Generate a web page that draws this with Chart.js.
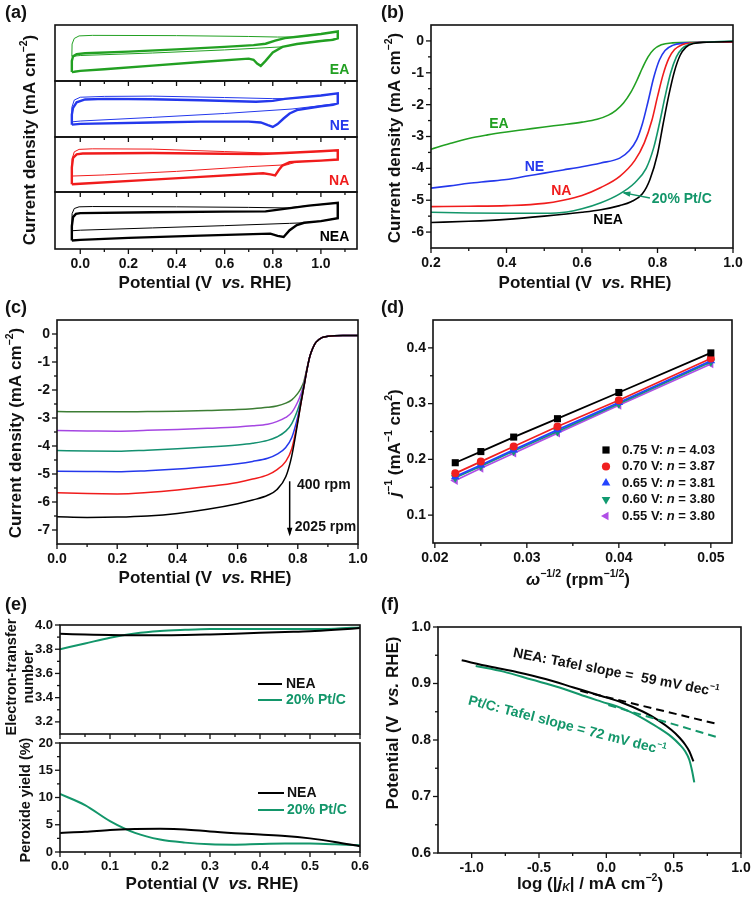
<!DOCTYPE html>
<html>
<head>
<meta charset="utf-8">
<script src="https://cdn.jsdelivr.net/npm/chart.js@4.4.1/dist/chart.umd.min.js"></script>
<style>
  body { margin: 0; background: #fff; }
  #fig { position: relative; width: 756px; height: 899px; background: #fff; overflow: hidden; }
  canvas { position: absolute; }
</style>
</head>
<body>
<div id="fig"></div>
<script>
// ---- colours ----
const INK = '#111';
const GREEN = '#22a022', BLUE = '#2438ec', RED = '#f01c1c', TEAL = '#13966a', PURPLE = '#a546e2', OLIVE = '#3c7d34';
const FONT = '"Liberation Sans", Arial, Helvetica, sans-serif';

// ---- (a) cyclic voltammograms, [potential V, current in arbitrary units 0-10 per strip] ----
const eaO2 = [[-0.035,1.6],[-0.035,3.6],[-0.03,4.4],[-0.015,4.8],[0.02,4.95],[0.2,5.25],[0.4,5.65],[0.6,6.1],[0.72,6.4],[0.77,6.65],[0.81,7.2],[0.85,7.65],[0.92,8.0],[1.0,8.4],[1.07,8.85],[1.07,7.6],[1.05,7.35],[1.0,7.15],[0.9,6.6],[0.84,6.1],[0.8,5.1],[0.77,3.6],[0.75,2.7],[0.735,3.1],[0.72,3.8],[0.7,4.0],[0.5,3.4],[0.3,2.75],[0.1,2.1],[0.0,1.8],[-0.025,1.65],[-0.035,1.6]];
const eaN2 = [[-0.035,4.4],[-0.034,6.6],[-0.025,7.6],[-0.005,8.05],[0.05,8.15],[0.4,8.1],[0.7,7.95],[0.82,7.85],[0.88,7.85],[0.95,8.1],[1.0,8.4],[1.07,8.85],[1.07,7.6],[1.0,7.2],[0.9,6.6],[0.84,6.1],[0.6,5.55],[0.3,5.0],[0.0,4.55],[-0.035,4.4]];
const neO2 = [[-0.035,2.2],[-0.035,4.0],[-0.03,5.2],[-0.015,6.2],[0.02,6.7],[0.1,6.8],[0.3,6.75],[0.5,6.55],[0.73,6.3],[0.8,6.45],[0.85,6.8],[1.0,7.4],[1.07,7.8],[1.07,6.0],[1.05,5.75],[1.0,5.5],[0.9,4.8],[0.87,4.2],[0.845,3.3],[0.82,2.3],[0.8,1.8],[0.78,2.1],[0.75,2.6],[0.7,2.75],[0.5,2.75],[0.3,2.6],[0.0,2.35],[-0.035,2.2]];
const neN2 = [[-0.035,2.7],[-0.035,5.3],[-0.025,6.6],[0.0,7.1],[0.1,7.25],[0.3,7.3],[0.6,7.05],[0.8,6.85],[0.86,6.85],[1.0,7.4],[1.07,7.8],[1.07,6.0],[1.0,5.6],[0.88,5.0],[0.6,4.2],[0.3,3.5],[0.0,2.85],[-0.035,2.7]];
const naO2 = [[-0.035,1.4],[-0.035,4.5],[-0.03,6.2],[-0.015,6.85],[0.01,7.0],[0.3,7.1],[0.6,6.95],[0.75,6.9],[0.85,7.1],[1.0,7.4],[1.07,7.6],[1.07,5.9],[1.0,5.7],[0.9,5.5],[0.87,5.4],[0.84,4.8],[0.825,4.0],[0.81,3.0],[0.79,3.2],[0.76,3.4],[0.5,2.75],[0.3,2.25],[0.0,1.5],[-0.035,1.4]];
const naN2 = [[-0.035,2.9],[-0.034,6.0],[-0.025,7.3],[-0.005,7.75],[0.05,7.85],[0.3,7.8],[0.6,7.35],[0.8,7.05],[0.86,7.1],[1.0,7.4],[1.07,7.6],[1.07,5.9],[1.0,5.7],[0.9,5.5],[0.86,4.95],[0.7,4.6],[0.4,3.75],[0.1,3.1],[-0.035,2.9]];
const neaO2 = [[-0.035,1.5],[-0.035,4.0],[-0.03,5.6],[-0.018,6.15],[0.0,6.3],[0.3,6.45],[0.6,6.55],[0.77,6.6],[0.84,7.0],[0.95,7.6],[1.07,8.1],[1.07,5.4],[1.0,4.9],[0.93,4.6],[0.9,4.2],[0.87,3.3],[0.845,2.1],[0.82,2.3],[0.79,2.7],[0.5,2.35],[0.2,1.95],[0.0,1.6],[-0.035,1.5]];
const neaN2 = [[-0.035,3.2],[-0.034,6.2],[-0.025,7.1],[-0.005,7.4],[0.05,7.45],[0.4,7.4],[0.7,7.3],[0.86,7.2],[0.95,7.6],[1.07,8.1],[1.07,5.4],[1.0,4.9],[0.93,4.6],[0.87,4.5],[0.6,4.1],[0.3,3.7],[0.0,3.3],[-0.035,3.2]];

// ---- (b) LSV curves ----
const lsvEA = [[0.2,-3.4],[0.25,-3.22],[0.3,-3.06],[0.35,-2.95],[0.4,-2.86],[0.45,-2.78],[0.5,-2.7],[0.55,-2.63],[0.6,-2.55],[0.64,-2.46],[0.67,-2.33],[0.69,-2.18],[0.71,-1.95],[0.73,-1.6],[0.745,-1.25],[0.76,-0.85],[0.775,-0.5],[0.79,-0.27],[0.81,-0.12],[0.84,-0.06],[0.9,-0.04],[1.0,-0.03]];
const lsvNE = [[0.2,-4.62],[0.25,-4.55],[0.3,-4.47],[0.35,-4.41],[0.4,-4.35],[0.45,-4.25],[0.5,-4.15],[0.55,-4.05],[0.6,-3.95],[0.65,-3.83],[0.7,-3.68],[0.725,-3.45],[0.745,-3.1],[0.76,-2.6],[0.775,-1.9],[0.79,-1.15],[0.805,-0.6],[0.82,-0.3],[0.84,-0.14],[0.87,-0.07],[0.92,-0.04],[1.0,-0.03]];
const lsvNA = [[0.2,-5.2],[0.3,-5.19],[0.4,-5.17],[0.5,-5.1],[0.55,-5.0],[0.6,-4.85],[0.65,-4.6],[0.7,-4.25],[0.74,-3.75],[0.765,-3.2],[0.785,-2.5],[0.8,-1.75],[0.815,-1.05],[0.83,-0.55],[0.845,-0.27],[0.865,-0.12],[0.89,-0.06],[0.93,-0.04],[1.0,-0.03]];
const lsvPt = [[0.2,-5.38],[0.3,-5.4],[0.4,-5.41],[0.5,-5.41],[0.56,-5.37],[0.6,-5.27],[0.65,-5.08],[0.7,-4.8],[0.74,-4.45],[0.77,-4.0],[0.79,-3.35],[0.805,-2.6],[0.82,-1.75],[0.835,-1.0],[0.85,-0.5],[0.865,-0.24],[0.885,-0.1],[0.91,-0.05],[0.95,-0.03],[1.0,0.0]];
const lsvNEA = [[0.2,-5.7],[0.3,-5.66],[0.4,-5.6],[0.5,-5.5],[0.6,-5.38],[0.65,-5.3],[0.7,-5.17],[0.73,-5.05],[0.76,-4.8],[0.78,-4.35],[0.8,-3.55],[0.815,-2.6],[0.83,-1.7],[0.845,-0.95],[0.86,-0.45],[0.875,-0.2],[0.895,-0.08],[0.93,-0.04],[1.0,-0.02]];

// ---- (c) rotating-disk LSV at different rates ----
const rdeV = [0,0.1,0.2,0.3,0.4,0.5,0.6,0.65,0.7,0.73,0.76,0.78,0.8,0.81,0.82,0.83,0.84,0.85,0.86,0.88,0.9,0.95,1.0];
const rde2025 = [-6.53,-6.55,-6.54,-6.5,-6.41,-6.26,-6.06,-5.93,-5.76,-5.56,-5.1,-4.35,-3.15,-2.5,-1.9,-1.3,-0.8,-0.5,-0.3,-0.13,-0.08,-0.05,-0.05];
const rde1600 = [-5.67,-5.7,-5.71,-5.66,-5.57,-5.45,-5.3,-5.18,-5.03,-4.85,-4.55,-4.1,-3.1,-2.5,-1.9,-1.3,-0.8,-0.5,-0.3,-0.13,-0.08,-0.05,-0.05];
const rde1225 = [-4.9,-4.91,-4.92,-4.88,-4.82,-4.74,-4.63,-4.55,-4.44,-4.3,-4.05,-3.7,-2.95,-2.45,-1.9,-1.3,-0.8,-0.5,-0.3,-0.13,-0.08,-0.05,-0.05];
const rde900 = [-4.16,-4.18,-4.19,-4.15,-4.1,-4.04,-3.96,-3.9,-3.8,-3.68,-3.47,-3.2,-2.7,-2.35,-1.85,-1.3,-0.8,-0.5,-0.3,-0.13,-0.08,-0.05,-0.05];
const rde625 = [-3.45,-3.46,-3.47,-3.44,-3.41,-3.37,-3.32,-3.28,-3.22,-3.13,-2.98,-2.8,-2.42,-2.15,-1.8,-1.28,-0.8,-0.5,-0.3,-0.13,-0.08,-0.05,-0.05];
const rde400 = [-2.77,-2.78,-2.78,-2.77,-2.76,-2.73,-2.7,-2.67,-2.62,-2.57,-2.47,-2.35,-2.12,-1.95,-1.7,-1.25,-0.8,-0.5,-0.3,-0.13,-0.08,-0.05,-0.05];

// ---- (d) Koutecky-Levich ----
const klX = [0.02222, 0.025, 0.02857, 0.03333, 0.04, 0.05];
const kl075 = [0.194, 0.214, 0.240, 0.273, 0.320, 0.391];
const kl070 = [0.175, 0.196, 0.223, 0.259, 0.306, 0.381];
const kl065 = [0.169, 0.190, 0.217, 0.253, 0.302, 0.377];
const kl060 = [0.167, 0.188, 0.215, 0.250, 0.300, 0.375];
const kl055 = [0.162, 0.184, 0.211, 0.247, 0.297, 0.371];
const klNames = ['0.75 V: ', '0.70 V: ', '0.65 V: ', '0.60 V: ', '0.55 V: '];
const klN = ['4.03', '3.87', '3.81', '3.80', '3.80'];

// ---- (e) RRDE ----
const rrdeV = [0,0.05,0.1,0.15,0.2,0.25,0.3,0.35,0.4,0.45,0.5,0.55,0.6];
const nNEA = [3.927,3.922,3.917,3.915,3.915,3.917,3.922,3.928,3.936,3.942,3.948,3.960,3.975];
const nPt = [3.80,3.847,3.895,3.93,3.95,3.96,3.967,3.968,3.967,3.966,3.966,3.97,3.98];
const hNEA = [3.5,3.7,4.05,4.2,4.25,4.15,3.75,3.45,3.2,2.95,2.5,1.85,1.05];
const hPt = [10.65,8.6,5.66,3.5,2.28,1.72,1.42,1.35,1.48,1.55,1.54,1.42,1.23];

// ---- (f) Tafel ----
const tafNEA = [[-1.074,0.941],[-0.867,0.930],[-0.659,0.920],[-0.452,0.908],[-0.244,0.893],[-0.037,0.878],[0.119,0.866],[0.274,0.850],[0.378,0.836],[0.482,0.818],[0.544,0.804],[0.585,0.792],[0.616,0.780],[0.637,0.768],[0.647,0.762]];
const tafPt = [[-0.97,0.931],[-0.763,0.921],[-0.556,0.907],[-0.348,0.893],[-0.141,0.876],[-0.037,0.868],[0.119,0.856],[0.274,0.838],[0.378,0.823],[0.482,0.806],[0.544,0.792],[0.585,0.78],[0.616,0.765],[0.637,0.745],[0.653,0.725]];
const fitNEA = [[-0.193,0.887],[0.813,0.829]];
const fitPt = [[0.015,0.862],[0.824,0.805]];

// ---- helpers ----
const fig = document.getElementById('fig');
const zip = (xs, ys) => xs.map((x, i) => [x, ys[i]]);
const f1 = v => v.toFixed(1), f2 = v => v.toFixed(2), f0 = v => String(v);

function rich(ctx, segs, x, y, o) {
  const size = o.size || 17;
  ctx.save();
  ctx.translate(x, y);
  if (o.rot) ctx.rotate(o.rot * Math.PI / 180);
  ctx.fillStyle = o.color || INK;
  ctx.textBaseline = 'middle';
  ctx.textAlign = 'left';
  const parts = segs.map(s => {
    const t = Array.isArray(s) ? s[0] : s, st = Array.isArray(s) ? s[1] : '';
    const small = /[\^_]/.test(st);
    const font = (st.includes('i') ? 'italic ' : '') + 'bold ' + (small ? size * 0.62 : size) + 'px ' + FONT;
    ctx.font = font;
    return { t, font, w: ctx.measureText(t).width, dy: st.includes('^') ? -size * 0.36 : st.includes('_') ? size * 0.24 : 0 };
  });
  const total = parts.reduce((s, p) => s + p.w, 0);
  let cx = o.align === 'left' ? 0 : o.align === 'right' ? -total : -total / 2;
  parts.forEach(p => { ctx.font = p.font; ctx.fillText(p.t, cx, p.dy); cx += p.w; });
  ctx.restore();
}

function marker(ctx, style, x, y, r, color) {
  ctx.save();
  ctx.fillStyle = color;
  ctx.beginPath();
  if (style === 'rect') ctx.rect(x - r * 0.72, y - r * 0.72, r * 1.44, r * 1.44);
  else if (style === 'circle') ctx.arc(x, y, r * 0.82, 0, Math.PI * 2);
  else {
    const a0 = { up: -90, down: 90, left: 180 }[style] * Math.PI / 180;
    for (let k = 0; k < 3; k++) {
      const t = a0 + k * Math.PI * 2 / 3;
      ctx.lineTo(x + r * Math.cos(t), y + r * Math.sin(t));
    }
    ctx.closePath();
  }
  ctx.fill();
  ctx.restore();
}

// frame, minor ticks, titles, annotations
const deco = {
  id: 'deco',
  afterDraw(chart) {
    const o = chart.canvas.deco;
    const ctx = chart.ctx, a = chart.chartArea, sx = chart.scales.x, sy = chart.scales.y;
    const pos = (x, y, d) => d ? [sx.getPixelForValue(x), sy.getPixelForValue(y)] : [x - o.rect[0], y - o.rect[1]];
    const seg = (x1, y1, x2, y2) => { ctx.beginPath(); ctx.moveTo(x1, y1); ctx.lineTo(x2, y2); ctx.stroke(); };
    ctx.save();
    ctx.strokeStyle = INK;
    ctx.lineWidth = 1.3;
    if (o.xMinor) {
      sx.ticks.forEach(t => { const x = sx.getPixelForValue(t.value); seg(x, a.bottom, x, a.bottom + 5); });
      o.xMinor.forEach(v => { const x = sx.getPixelForValue(v); seg(x, a.bottom, x, a.bottom + 3); });
    }
    if (o.yMinor) {
      sy.ticks.forEach(t => { const y = sy.getPixelForValue(t.value); seg(a.left - 5, y, a.left, y); });
      o.yMinor.forEach(v => { const y = sy.getPixelForValue(v); seg(a.left - 3, y, a.left, y); });
    }
    ctx.lineWidth = 1.6;
    ctx.strokeRect(a.left, a.top, a.right - a.left, a.bottom - a.top);
    (o.lines || []).forEach(l => {
      const [x1, y1] = pos(l.p[0][0], l.p[0][1], l.d), [x2, y2] = pos(l.p[1][0], l.p[1][1], l.d);
      ctx.strokeStyle = l.color; ctx.fillStyle = l.color; ctx.lineWidth = l.w || 2;
      seg(x1, y1, x2, y2);
      if (l.arrow) {
        const ang = Math.atan2(y2 - y1, x2 - x1), h = 7;
        ctx.beginPath();
        ctx.moveTo(x2 + Math.cos(ang) * 2, y2 + Math.sin(ang) * 2);
        ctx.lineTo(x2 - h * Math.cos(ang - 0.4), y2 - h * Math.sin(ang - 0.4));
        ctx.lineTo(x2 - h * Math.cos(ang + 0.4), y2 - h * Math.sin(ang + 0.4));
        ctx.closePath(); ctx.fill();
      }
    });
    (o.marks || []).forEach(m => { const [x, y] = pos(m.x, m.y, m.d); marker(ctx, m.style, x, y, 5, m.color); });
    (o.texts || []).forEach(t => { const [x, y] = pos(t.x, t.y, t.d); rich(ctx, t.s, x, y, t); });
    ctx.restore();
  }
};

function axis(s, size, horiz) {
  return {
    type: 'linear', position: horiz ? 'bottom' : 'left', min: s.min, max: s.max,
    afterBuildTicks: sc => { sc.ticks = (s.ticks || []).map(v => ({ value: v })); },
    afterFit: sc => {
      if (horiz) sc.height = size; else sc.width = size;
      sc.paddingLeft = sc.paddingRight = sc.paddingTop = sc.paddingBottom = 0;
    },
    grid: { display: false, drawTicks: true, tickLength: 5 },
    border: { display: false },
    ticks: {
      display: !!s.fmt, padding: 2, autoSkip: false, maxRotation: 0, minRotation: 0, color: INK,
      font: { family: FONT, size: s.fs || 14, weight: 'bold' },
      callback: v => s.fmt ? s.fmt(v) : ''
    }
  };
}

// rect = canvas [left, top, w, h] in page px, box = plot area [l, t, r, b] in page px
function panel(rect, box, o) {
  const c = document.createElement('canvas');
  c.width = rect[2]; c.height = rect[3];
  c.style.left = rect[0] + 'px'; c.style.top = rect[1] + 'px';
  fig.appendChild(c);
  c.deco = Object.assign({ rect }, o);
  const yW = o.yW || 0, xH = o.xH || 0;
  return new Chart(c, {
    type: 'scatter',
    data: { datasets: o.datasets },
    options: {
      responsive: false, animation: false, events: [],
      layout: {
        autoPadding: false,
        padding: { left: box[0] - rect[0] - yW, top: box[1] - rect[1], right: rect[0] + rect[2] - box[2], bottom: rect[1] + rect[3] - box[3] - xH }
      },
      plugins: { legend: { display: false }, tooltip: { enabled: false } },
      scales: { x: axis(o.x, xH, true), y: axis(o.y, yW, false) }
    },
    plugins: [deco]
  });
}

function line(pts, color, w, extra) {
  return Object.assign({
    data: pts.map(p => ({ x: p[0], y: p[1] })), showLine: true, borderColor: color, backgroundColor: color,
    borderWidth: w, pointRadius: 0, fill: false
  }, extra || {});
}
const smooth = { cubicInterpolationMode: 'monotone' };
const potTitle = ['Potential (V  ', ['vs.', 'i'], ' RHE)'];
const cdTitle = ['Current density (mA cm', ['−2', '^'], ')'];

// ---- (a) ----
const aRect = [0, 0, 378, 295];
const aX = { min: -0.105, max: 1.15, ticks: [0, 0.2, 0.4, 0.6, 0.8, 1.0] };
const aMinor = [0.1, 0.3, 0.5, 0.7, 0.9, 1.1];
const aStrips = [
  { box: [55, 25, 357, 81], o2: eaO2, n2: eaN2, color: GREEN, name: 'EA' },
  { box: [55, 81, 357, 137], o2: neO2, n2: neN2, color: BLUE, name: 'NE' },
  { box: [55, 137, 357, 192], o2: naO2, n2: naN2, color: RED, name: 'NA' },
  { box: [55, 192, 357, 249], o2: neaO2, n2: neaN2, color: '#000', name: 'NEA' }
];
aStrips.forEach((s, i) => {
  const last = i === aStrips.length - 1;
  const texts = [{ s: [s.name], x: 1.118, y: 2.0, d: true, size: 14, color: s.color, align: 'right' }];
  if (last) {
    texts.push({ s: ['(a)'], x: 5, y: 13, size: 18, align: 'left' });
    texts.push({ s: potTitle, x: 205, y: 283 });
    texts.push({ s: cdTitle, x: 30, y: 140, rot: -90 });
  }
  panel(aRect, s.box, {
    xH: last ? 30 : 0,
    x: Object.assign({ fmt: last ? f1 : null }, aX),
    y: { min: 0, max: 10 },
    xMinor: aMinor,
    datasets: [line(s.o2, s.color, 2.4), line(s.n2, s.color, 1)],
    texts
  });
});

// ---- (b) ----
panel([378, 0, 378, 295], [431, 25, 733, 248], {
  yW: 28, xH: 30,
  x: { min: 0.2, max: 1.0, ticks: [0.2, 0.4, 0.6, 0.8, 1.0], fmt: f1 },
  y: { min: -6.5, max: 0.5, ticks: [0, -1, -2, -3, -4, -5, -6], fmt: f0 },
  xMinor: [0.3, 0.5, 0.7, 0.9],
  yMinor: [-0.5, -1.5, -2.5, -3.5, -4.5, -5.5],
  datasets: [
    line(lsvNEA, '#000', 1.6, smooth), line(lsvPt, TEAL, 1.6, smooth), line(lsvNA, RED, 1.6, smooth),
    line(lsvNE, BLUE, 1.6, smooth), line(lsvEA, GREEN, 1.6, smooth)
  ],
  lines: [{ p: [[0.78, -4.93], [0.711, -4.77]], d: true, color: TEAL, w: 1.4, arrow: true }],
  texts: [
    { s: ['(b)'], x: 381, y: 13, size: 18, align: 'left' },
    { s: potTitle, x: 585, y: 283 },
    { s: cdTitle, x: 395, y: 138, rot: -90 },
    { s: ['EA'], x: 0.38, y: -2.62, d: true, size: 14, color: GREEN },
    { s: ['NE'], x: 0.474, y: -3.97, d: true, size: 14, color: BLUE },
    { s: ['NA'], x: 0.545, y: -4.7, d: true, size: 14, color: RED },
    { s: ['20% Pt/C'], x: 0.785, y: -4.98, d: true, size: 14, color: TEAL, align: 'left' },
    { s: ['NEA'], x: 0.669, y: -5.63, d: true, size: 14, color: '#000' }
  ]
});

// ---- (c) ----
panel([0, 295, 378, 300], [57, 320, 358, 544], {
  yW: 30, xH: 30,
  x: { min: 0, max: 1.0, ticks: [0, 0.2, 0.4, 0.6, 0.8, 1.0], fmt: f1 },
  y: { min: -7.5, max: 0.5, ticks: [0, -1, -2, -3, -4, -5, -6, -7], fmt: f0 },
  xMinor: [0.1, 0.3, 0.5, 0.7, 0.9],
  yMinor: [-0.5, -1.5, -2.5, -3.5, -4.5, -5.5, -6.5],
  datasets: [
    line(zip(rdeV, rde2025), '#000', 1.5, smooth), line(zip(rdeV, rde1600), RED, 1.5, smooth),
    line(zip(rdeV, rde1225), BLUE, 1.5, smooth), line(zip(rdeV, rde900), '#139070', 1.5, smooth),
    line(zip(rdeV, rde625), PURPLE, 1.5, smooth), line(zip(rdeV, rde400), OLIVE, 1.5, smooth)
  ],
  lines: [{ p: [[0.773, -5.26], [0.773, -7.15]], d: true, color: '#000', w: 1.5, arrow: true }],
  texts: [
    { s: ['(c)'], x: 5, y: 308, size: 18, align: 'left' },
    { s: potTitle, x: 205, y: 578 },
    { s: cdTitle, x: 16, y: 433, rot: -90 },
    { s: ['400 rpm'], x: 0.797, y: -5.4, d: true, size: 14, align: 'left' },
    { s: ['2025 rpm'], x: 0.79, y: -6.9, d: true, size: 14, align: 'left' }
  ]
});

// ---- (d) ----
const klSeries = [
  { y: kl075, color: '#000', style: 'rect', ps: 'rect', r: 5, rot: 0 },
  { y: kl070, color: '#f02020', style: 'circle', ps: 'circle', r: 4, rot: 0 },
  { y: kl065, color: '#2444ff', style: 'up', ps: 'triangle', r: 5, rot: 0 },
  { y: kl060, color: '#119a70', style: 'down', ps: 'triangle', r: 5, rot: 180 },
  { y: kl055, color: '#b04ee6', style: 'left', ps: 'triangle', r: 5, rot: -90 }
];
const legRows = [450, 466.5, 483, 499.5, 516];
panel([378, 295, 378, 300], [433, 320, 732, 543], {
  yW: 30, xH: 30,
  x: { min: 0.0198, max: 0.0523, ticks: [0.02, 0.03, 0.04, 0.05], fmt: f2 },
  y: { min: 0.05, max: 0.45, ticks: [0.1, 0.2, 0.3, 0.4], fmt: f1 },
  xMinor: [0.025, 0.035, 0.045],
  yMinor: [0.15, 0.25, 0.35],
  datasets: klSeries.map(k => line(zip(klX, k.y), k.color, 1.8, {
    pointRadius: k.r, pointStyle: k.ps, rotation: k.rot, pointBackgroundColor: k.color, pointBorderWidth: 0
  })),
  marks: klSeries.map((k, i) => ({ style: k.style, x: 606, y: legRows[i], color: k.color })),
  texts: [
    { s: ['(d)'], x: 381, y: 308, size: 18, align: 'left' },
    { s: [['ω', 'i'], ['−1/2', '^'], ' (rpm', ['−1/2', '^'], ')'], x: 578, y: 580 },
    { s: [['j', 'i'], ['−1', '^'], ' (mA', ['−1', '^'], ' cm', ['2', '^'], ')'], x: 395, y: 443, rot: -90 }
  ].concat(klNames.map((nm, i) => ({ s: [nm, ['n', 'i'], ' = ' + klN[i]], x: 622, y: legRows[i], size: 13, align: 'left' })))
});

// ---- (e) ----
const eRect = [0, 590, 378, 309];
const eX = { min: 0, max: 0.6, ticks: [0, 0.1, 0.2, 0.3, 0.4, 0.5, 0.6] };
const eMinor = [0.05, 0.15, 0.25, 0.35, 0.45, 0.55];
panel(eRect, [60, 625, 360, 734], {
  yW: 30, xH: 0,
  x: eX,
  y: { min: 3.1, max: 4.0, ticks: [3.2, 3.4, 3.6, 3.8, 4.0], fmt: f1, fs: 13 },
  xMinor: eMinor, yMinor: [3.3, 3.5, 3.7, 3.9],
  datasets: [line(zip(rrdeV, nNEA), '#000', 2, smooth), line(zip(rrdeV, nPt), TEAL, 2, smooth)],
  lines: [
    { p: [[258, 684], [282, 684]], color: '#000', w: 2 },
    { p: [[258, 700], [282, 700]], color: TEAL, w: 2 }
  ],
  texts: [
    { s: ['NEA'], x: 286, y: 684, size: 14, align: 'left' },
    { s: ['20% Pt/C'], x: 286, y: 700, size: 14, align: 'left', color: TEAL },
    { s: ['Electron-transfer'], x: 12, y: 677, size: 14.5, rot: -90 },
    { s: ['number'], x: 29, y: 677, size: 14.5, rot: -90 }
  ]
});
panel(eRect, [60, 743, 360, 852], {
  yW: 30, xH: 30,
  x: Object.assign({ fmt: f1, fs: 13 }, eX),
  y: { min: 0, max: 20, ticks: [0, 5, 10, 15, 20], fmt: f0, fs: 13 },
  xMinor: eMinor, yMinor: [2.5, 7.5, 12.5, 17.5],
  datasets: [line(zip(rrdeV, hNEA), '#000', 2, smooth), line(zip(rrdeV, hPt), TEAL, 2, smooth)],
  lines: [
    { p: [[258, 793], [284, 793]], color: '#000', w: 2 },
    { p: [[258, 810], [284, 810]], color: TEAL, w: 2 }
  ],
  texts: [
    { s: ['NEA'], x: 287, y: 793, size: 14, align: 'left' },
    { s: ['20% Pt/C'], x: 287, y: 810, size: 14, align: 'left', color: TEAL },
    { s: ['(e)'], x: 5, y: 605, size: 18, align: 'left' },
    { s: ['Peroxide yield (%)'], x: 26, y: 800, size: 14.5, rot: -90 },
    { s: potTitle, x: 212, y: 884 }
  ]
});

// ---- (f) ----
panel([378, 590, 378, 309], [438, 627, 741, 853], {
  yW: 30, xH: 30,
  x: { min: -1.25, max: 1.0, ticks: [-1.0, -0.5, 0, 0.5, 1.0], fmt: f1 },
  y: { min: 0.6, max: 1.0, ticks: [0.6, 0.7, 0.8, 0.9, 1.0], fmt: f1 },
  xMinor: [-0.75, -0.25, 0.25, 0.75],
  yMinor: [0.65, 0.75, 0.85, 0.95],
  datasets: [
    line(fitNEA, '#000', 2, { borderDash: [8, 5] }), line(fitPt, TEAL, 2, { borderDash: [8, 5] }),
    line(tafNEA, '#000', 2, smooth), line(tafPt, TEAL, 2, smooth)
  ],
  texts: [
    { s: ['(f)'], x: 381, y: 605, size: 18, align: 'left' },
    { s: potTitle, x: 393, y: 723, rot: -90 },
    { s: ['log (|', ['j', 'i'], ['K', 'i_'], '| / mA cm', ['−2', '^'], ')'], x: 590, y: 884 },
    { s: ['NEA: Tafel slope =  59 mV dec', ['−1', '^']], x: 616, y: 673, size: 14, rot: 11 },
    { s: ['Pt/C: Tafel slope = 72 mV dec', ['−1', '^']], x: 567, y: 726, size: 14, rot: 14.5, color: TEAL }
  ]
});
</script>
</body>
</html>
